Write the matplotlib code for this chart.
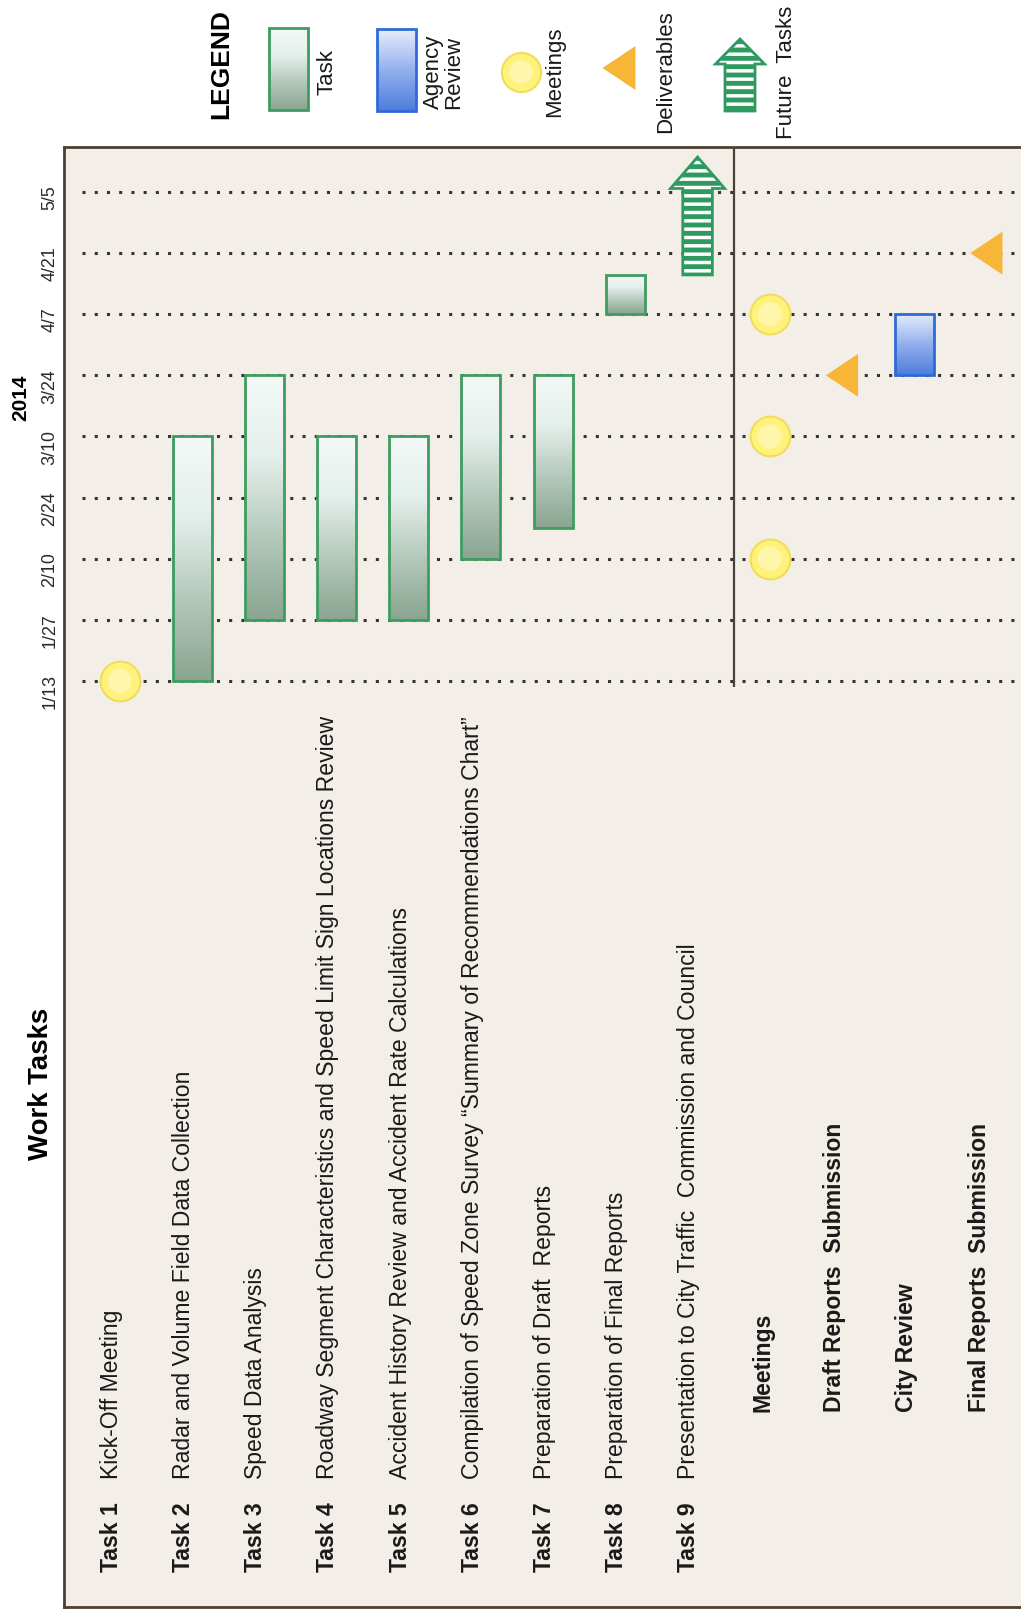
# Cronograma de tareas 2014 (gantt girado 90 grados)
import numpy as np
import matplotlib
matplotlib.use('Agg')
import matplotlib.pyplot as plt
from matplotlib.patches import Rectangle, FancyArrow
from matplotlib.colors import LinearSegmentedColormap
from matplotlib import font_manager

# ---------------- datos ----------------
fechas_eje = ['1/13', '1/27', '2/10', '2/24', '3/10', '3/24', '4/7', '4/21', '5/5']

tareas = ['Kick-Off Meeting',
          'Radar and Volume Field Data Collection',
          'Speed Data Analysis',
          'Roadway Segment Characteristics and Speed Limit Sign Locations Review',
          'Accident History Review and Accident Rate Calculations',
          'Compilation of Speed Zone Survey \u201cSummary of Recommendations Chart\u201d',
          'Preparation of Draft  Reports',
          'Preparation of Final Reports',
          'Presentation to City Traffic  Commission and Council']
filas_extra = ['Meetings', 'Draft Reports  Submission', 'City Review', 'Final Reports  Submission']

# barras de tareas (columna, inicio, fin)
barra_col = [2, 3, 4, 5, 6, 7, 8]
barra_ini = ['1/13', '1/27', '1/27', '1/27', '2/10', '2/17', '4/7']
barra_fin = ['3/10', '3/24', '3/10', '3/10', '3/24', '3/24', '4/16']

kickoff = '1/13'
reuniones = ['2/10', '3/10', '4/7']
entrega_borrador = '3/24'
revision_ini, revision_fin = '3/24', '4/7'
entrega_final = '4/21'
futuro_ini, futuro_fin = '4/16', '5/13'


def dia(s):
    m, d = s.split('/')
    return int((np.datetime64(f'2014-{int(m):02d}-{int(d):02d}') - np.datetime64('2014-01-13')).astype(int))


nombres = {f.name for f in font_manager.fontManager.ttflist}
if 'Liberation Sans Narrow' in nombres:
    ANGOSTA, ESC = 'Liberation Sans Narrow', 1.0
else:
    # sin fuente angosta: se achica el tamaño para igualar el largo de los textos
    ANGOSTA, ESC = 'Liberation Sans', 0.83
NORMAL = 'Liberation Sans'

plt.rcParams['hatch.linewidth'] = 2.5

verde = LinearSegmentedColormap.from_list('verde', ['#8aa591', '#b3c8ba', '#e4efeb', '#f4f9f8'])
azul = LinearSegmentedColormap.from_list('azul', ['#4f7cdc', '#93b0ee', '#e8eefb'])
grad = np.linspace(0, 1, 256).reshape(-1, 1)

BORDE_VERDE = '#3f9c60'
BORDE_AZUL = '#2f6bd6'
AMARILLO = '#fff27c'
NARANJA = '#f7b637'
VERDE_FLECHA = '#2f9a5f'
MARCO = '#4d3f33'


def barra(ax, x0, x1, y0, y1, cmap, borde):
    ax.imshow(grad, extent=(x0, x1, y0, y1), origin='lower', cmap=cmap,
              aspect='auto', zorder=3, interpolation='bilinear')
    ax.add_patch(Rectangle((x0, y0), x1 - x0, y1 - y0, fill=False, ec=borde, lw=2, zorder=4))


def flecha(ax, x, y, dy, ancho, cabeza_ancho, cabeza_largo):
    kw = dict(width=ancho, head_width=cabeza_ancho, head_length=cabeza_largo,
              length_includes_head=True)
    ax.add_patch(FancyArrow(x, y, 0, dy, fc=VERDE_FLECHA, ec='none', zorder=5, **kw))
    ax.add_patch(FancyArrow(x, y, 0, dy, fc='none', ec='white', lw=0, hatch='--', zorder=6, **kw))
    ax.add_patch(FancyArrow(x, y, 0, dy, fc='none', ec=VERDE_FLECHA, lw=2, zorder=7, **kw))


tri = [(-0.75, 0), (0.75, -1), (0.75, 1)]

fig = plt.figure(figsize=(10.21, 16.10), dpi=100, facecolor='white')

# ---------------- panel principal ----------------
ax = fig.add_axes([64 / 1021, 3 / 1610, 957 / 1021, 1460 / 1610])
ax.set_facecolor('#f3efe8')

dias_eje = [dia(f) for f in fechas_eje]
ax.hlines(dias_eje, 0.47, 13.6, colors='#333333', lw=2.2, linestyles=(0, (1, 3)), zorder=2)
ax.vlines(9.5, -1.3, 130, colors=MARCO, lw=1.6, zorder=2)

for c, a, b in zip(barra_col, barra_ini, barra_fin):
    barra(ax, c - 0.27, c + 0.27, dia(a), dia(b), verde, BORDE_VERDE)

barra(ax, 12 - 0.27, 12 + 0.27, dia(revision_ini), dia(revision_fin), azul, BORDE_AZUL)

circ_x = [1] + [10] * len(reuniones)
circ_y = [dia(kickoff)] + [dia(r) for r in reuniones]
ax.scatter(circ_x, circ_y, s=820, c=AMARILLO, edgecolors='#f1dd5a', linewidths=1.5, zorder=5)
ax.scatter(circ_x, circ_y, s=300, c='#fff8b8', edgecolors='none', alpha=0.8, zorder=6)

ax.scatter([11, 13], [dia(entrega_borrador), dia(entrega_final)], marker=tri, s=960,
           c=NARANJA, edgecolors='none', zorder=5)

flecha(ax, 9, dia(futuro_ini), dia(futuro_fin) - dia(futuro_ini), 0.41, 0.75, 7.2)

# etiquetas de tareas
tr = ax.get_xaxis_transform()
for i, t in enumerate(tareas):
    x = i + 1 - 0.12
    ax.text(x, 0.024, f'Task {i + 1}', transform=tr, rotation=90, ha='center', va='bottom',
            fontsize=20 * ESC, fontweight='bold', family=ANGOSTA, color='#1a1a1a')
    ax.text(x, 0.0877, t, transform=tr, rotation=90, ha='center', va='bottom',
            fontsize=20 * ESC, family=ANGOSTA, color='#1a1a1a')
for j, t in enumerate(filas_extra):
    ax.text(10 + j - 0.1, 0.1336, t, transform=tr, rotation=90, ha='center', va='bottom',
            fontsize=20 * ESC, fontweight='bold', family=ANGOSTA, color='#1a1a1a')

ax.set_xlim(0.224, 13.48)
ax.set_ylim(-212.1, 122.3)
ax.set_xticks([])
ax.set_yticks(dias_eje)
ax.set_yticklabels(fechas_eje, rotation=90, fontsize=15.5 * ESC, family=ANGOSTA, color='#2a2a2a')
ax.tick_params(axis='y', length=0, pad=4)
for lado in ['left', 'top', 'bottom']:
    ax.spines[lado].set_color(MARCO)
    ax.spines[lado].set_linewidth(2)
ax.spines['right'].set_visible(False)

fig.text(21 / 1021, 1 - 398 / 1610, '2014', rotation=90, ha='center', va='center',
         fontsize=18 * ESC, fontweight='bold', family=ANGOSTA)
fig.text(41 / 1021, 1 - 1084 / 1610, 'Work Tasks', rotation=90, ha='center', va='center',
         fontsize=24 * ESC, fontweight='bold', family=ANGOSTA)

# ---------------- leyenda ----------------
lg = fig.add_axes([0, 1 - 147 / 1610, 1, 147 / 1610])
lg.set_xlim(0, 1021)
lg.set_ylim(147, 0)
lg.axis('off')

lg.text(221, 64, 'LEGEND', rotation=90, ha='center', va='center', fontsize=19,
        fontweight='bold', family=NORMAL)
barra(lg, 269, 308, 110, 28, verde, BORDE_VERDE)
barra(lg, 377, 416, 111, 29, azul, BORDE_AZUL)
lg.scatter([521], [72], s=800, c=AMARILLO, edgecolors='#f1dd5a', linewidths=1.5, zorder=5)
lg.scatter([521], [72], s=290, c='#fff8b8', edgecolors='none', alpha=0.8, zorder=6)
lg.scatter([619], [68], marker=tri, s=1000, c=NARANJA, edgecolors='none', zorder=5)
flecha(lg, 740, 111, -72, 30, 49, 25)

textos_ley = ['Task', 'Agency\nReview', 'Meetings', 'Deliverables', 'Future  Tasks']
x_ley = [327, 444, 555, 666, 786]
for t, x in zip(textos_ley, x_ley):
    lg.text(x, 72, t, rotation=90, ha='center', va='center', fontsize=16, family=NORMAL,
            linespacing=0.95, multialignment='center', color='#1a1a1a')

fig.savefig('out.png', dpi=100)
